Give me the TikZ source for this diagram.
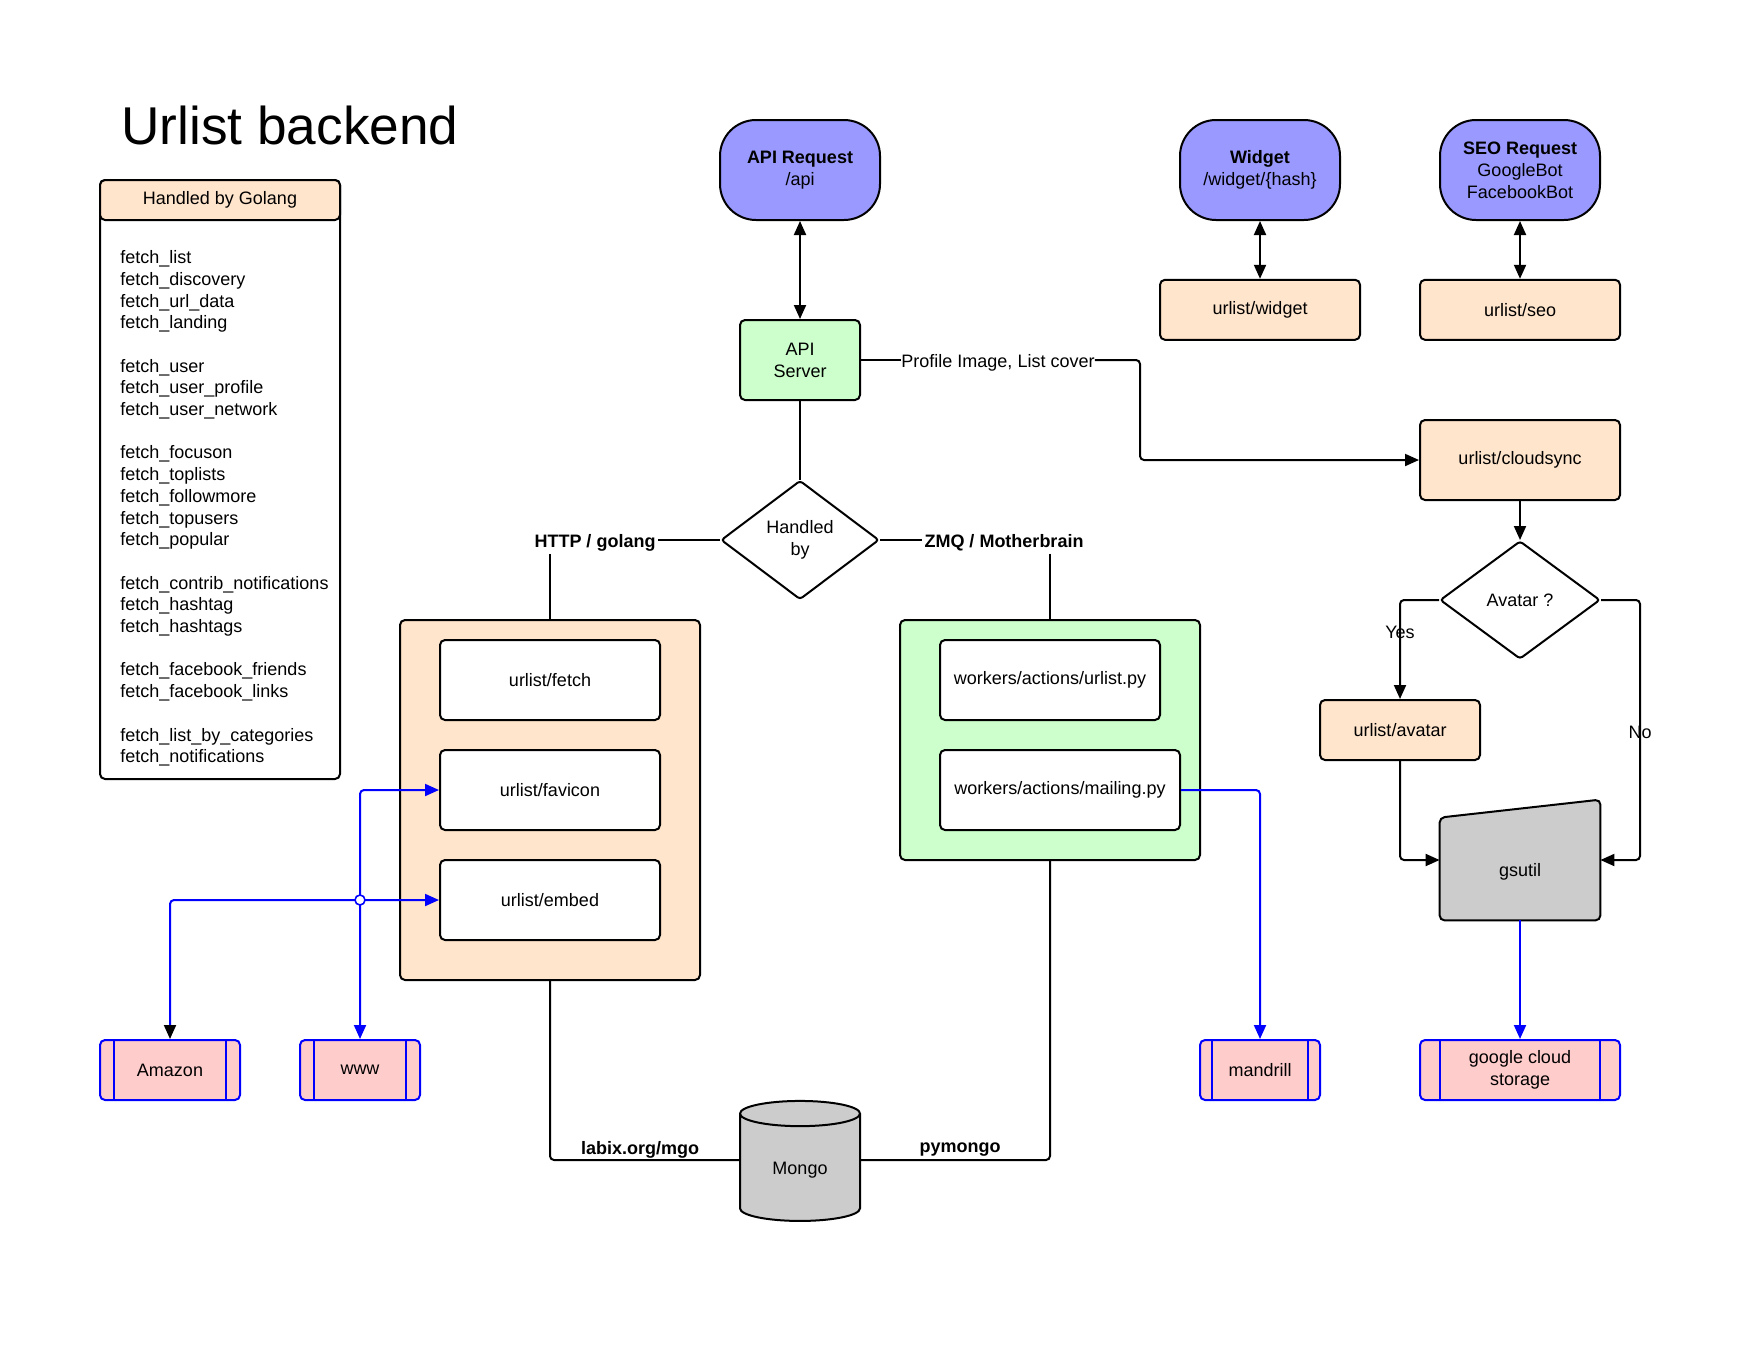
\documentclass[tikz,border=0pt]{standalone}
\usepackage{fontspec}
\setmainfont{Liberation Sans}
\usetikzlibrary{shapes.geometric,arrows.meta,positioning,calc,backgrounds}
\definecolor{reqblue}{RGB}{153,153,255}
\definecolor{svcpeach}{RGB}{255,229,204}
\definecolor{wkgreen}{RGB}{204,255,204}
\definecolor{stgray}{RGB}{204,204,204}
\definecolor{extpink}{RGB}{255,204,204}
\definecolor{linkblue}{RGB}{0,0,255}

\begin{document}
\begin{tikzpicture}[
      x=0.5pt, y=-0.5pt,
      every node/.style={font=\fontsize{9}{11}\selectfont},
      shapebase/.style={draw, line width=1pt, align=center, inner sep=2pt},
      reqbox/.style={shapebase, fill=reqblue, rounded corners=18pt,
                  minimum width=80pt, minimum height=50pt},
      svcbox/.style={shapebase, fill=svcpeach, rounded corners=2.5pt,
                  minimum width=100pt, minimum height=30pt},
      grpbox/.style={shapebase, rounded corners=2.5pt, minimum width=150pt},
      modbox/.style={shapebase, fill=white, rounded corners=2.5pt,
                  minimum height=40pt},
      decision/.style={shapebase, diamond, fill=white, rounded corners=1.5pt,
                  inner sep=0pt},
      extbox/.style={shapebase, draw=linkblue, fill=extpink, rounded corners=2.5pt,
                  minimum height=30pt,
                  path picture={
                    \draw[linkblue, line width=1pt]
                      ([xshift=#1]path picture bounding box.north west) --
                      ([xshift=#1]path picture bounding box.south west)
                      ([xshift=-#1]path picture bounding box.north east) --
                      ([xshift=-#1]path picture bounding box.south east);}},
      extbox/.default=7pt,
      lbl/.style={font=\fontsize{9}{11}\selectfont\bfseries, inner sep=1pt},
      conn/.style={line width=1pt, rounded corners=2pt},
      arr/.style={conn, -{Triangle[length=7pt, width=6pt]}},
      biarr/.style={conn, {Triangle[length=7pt, width=6pt]}-{Triangle[length=7pt, width=6pt]}},
      bluearr/.style={arr, draw=linkblue},
      blueline/.style={conn, draw=linkblue}
    ]
    \useasboundingbox (0,0) rectangle (1760,1360);

    \node[anchor=base west, inner sep=0pt, font=\fontsize{26.6}{30}\selectfont] (title) at (121,144) {Urlist backend};

    \node[shapebase, rounded corners=2.5pt, minimum width=120pt, minimum height=299.5pt] (golist) at (220,479.5) {};
    \node[shapebase, fill=svcpeach, rounded corners=2.5pt, minimum width=120pt,
          minimum height=20pt, anchor=north] (gohead) at (golist.north) {Handled by Golang};
    \node[align=left, anchor=west, inner sep=0pt, font=\fontsize{9}{10.85}\selectfont] (golines) at (120,508.5)
      {fetch\_list\\
       fetch\_discovery\\
       fetch\_url\_data\\
       fetch\_landing\\[10.85pt]
       fetch\_user\\
       fetch\_user\_profile\\
       fetch\_user\_network\\[10.85pt]
       fetch\_focuson\\
       fetch\_toplists\\
       fetch\_followmore\\
       fetch\_topusers\\
       fetch\_popular\\[10.85pt]
       fetch\_contrib\_notifications\\
       fetch\_hashtag\\
       fetch\_hashtags\\[10.85pt]
       fetch\_facebook\_friends\\
       fetch\_facebook\_links\\[10.85pt]
       fetch\_list\_by\_categories\\
       fetch\_notifications};

    \node[reqbox] (apireq) at (800,170) {\textbf{API Request}\\/api};
    \node[shapebase, fill=wkgreen, rounded corners=2.5pt, minimum width=60pt,
          minimum height=40pt] (apisrv) at (800,360) {API\\Server};
    \node[decision, minimum width=79pt, minimum height=59.5pt] (handled) at (800,540) {Handled\\by};
    \node[lbl] (httplbl) at (595,543) {HTTP / golang};
    \node[lbl] (zmqlbl) at (1004,543) {ZMQ / Motherbrain};
    \node[inner sep=0pt] (coverlbl) at (998,363) {Profile Image, List cover};

    \node[grpbox, fill=svcpeach, minimum height=180pt] (gobox) at (550,800) {};
    \node[modbox, minimum width=110pt] (fetch) at (550,680) {urlist/fetch};
    \node[modbox, minimum width=110pt, below=14pt of fetch] (favicon) {urlist/favicon};
    \node[modbox, minimum width=110pt, below=14pt of favicon] (embed) {urlist/embed};

    \node[grpbox, fill=wkgreen, minimum height=120pt] (wkbox) at (1050,740) {};
    \node[modbox, minimum width=110pt] (urlistpy) at (1050,680) {workers/actions/urlist.py};
    \node[modbox, minimum width=120pt, below=14pt of urlistpy.south west, anchor=north west] (mailing) {workers/actions/mailing.py};

    \node[shapebase, cylinder, shape border rotate=90, aspect=0.4, fill=stgray,
          minimum width=60pt, minimum height=60pt] (mongo) at (800,1170) {Mongo};
    \node[lbl] (mgolbl) at (640,1149.5) {labix.org/mgo};
    \node[lbl] (pymlbl) at (960,1149.5) {pymongo};

    \node[extbox, minimum width=70pt] (amazon) at (170,1070) {Amazon};
    \node[extbox, minimum width=60pt] (www) at (360,1070) {www};
    \node[extbox=6pt, minimum width=60pt] (mandrill) at (1260,1070) {mandrill};
    \node[extbox=10pt, minimum width=100pt] (gcs) at (1520,1070) {google cloud\\storage};

    \node[reqbox] (widget) at (1260,170) {\textbf{Widget}\\/widget/\{hash\}};
    \node[reqbox] (seoreq) at (1520,170) {\textbf{SEO Request}\\GoogleBot\\FacebookBot};
    \node[svcbox, below=28.9pt of widget] (wdgsvc) {urlist/widget};
    \node[svcbox, below=28.9pt of seoreq] (seosvc) {urlist/seo};
    \node[svcbox, minimum height=40pt] (cloudsync) at (1520,460) {urlist/cloudsync};
    \node[decision, minimum width=80pt, minimum height=59pt] (avatarq) at (1520,600) {Avatar ?};
    \node[svcbox, minimum width=80pt] (avatar) at (1400,730) {urlist/avatar};
    \node[minimum width=80pt, minimum height=55pt] (gsutil) at (1520,872) {gsutil};
    \node (yeslbl) at (1400,632) {Yes};
    \node (nolbl) at (1640,732) {No};
    \coordinate (syncturn) at (1140,460);
    \coordinate (noturn) at (1640,860);

    \begin{scope}[on background layer]
      \draw[line width=1pt, fill=stgray, rounded corners=2.5pt]
        ([yshift=-0.5pt]gsutil.north west) -- ([yshift=8.5pt]gsutil.north east)
        -- ([yshift=3.5pt]gsutil.south east) -- ([yshift=3.5pt]gsutil.south west) -- cycle;
    \end{scope}

    \draw[biarr] (apireq) -- (apisrv);
    \draw[biarr] (widget) -- (wdgsvc);
    \draw[biarr] (seoreq) -- (seosvc);
    \draw[conn] (apisrv) -- (handled);
    \draw[conn] (handled.west) -- (handled.west -| httplbl.east);
    \draw[conn] (handled.east) -- (handled.east -| zmqlbl.west);
    \draw[conn] (gobox.north |- httplbl.south) -- (gobox.north);
    \draw[conn] (wkbox.north |- zmqlbl.south) -- (wkbox.north);
    \draw[conn] (gobox.south) |- ([yshift=5pt]mongo.west);
    \draw[conn] (wkbox.south) |- ([yshift=5pt]mongo.east);
    \draw[conn] (apisrv.east) -- (apisrv.east -| coverlbl.west);
    \draw[arr] (apisrv.east -| coverlbl.east) -| (syncturn) -- (cloudsync.west);
    \draw[arr] (cloudsync) -- (avatarq);
    \draw[arr] (avatarq.west) -| (avatar.north);
    \draw[arr] (avatarq.east) -| (noturn) -- (noturn -| gsutil.east);
    \draw[arr] (avatar.south) |- (noturn -| gsutil.west);

    \draw[blueline, {Triangle[length=7pt, width=6pt]}-{Triangle[length=7pt, width=6pt]}] (favicon.west) -| (www.north);
    \draw[blueline, {Triangle[length=7pt, width=6pt]}-{Triangle[length=7pt, width=6pt, color=black]}] (embed.west) -| (amazon.north);
    \draw[linkblue, fill=white, line width=0.8pt] (www.north |- embed.west) circle[radius=2.5pt];
    \draw[bluearr] (mailing.east) -| (mandrill.north);
    \draw[bluearr] ([yshift=3.5pt]gsutil.south) -- (gcs.north);
  \end{tikzpicture}
\end{document}
